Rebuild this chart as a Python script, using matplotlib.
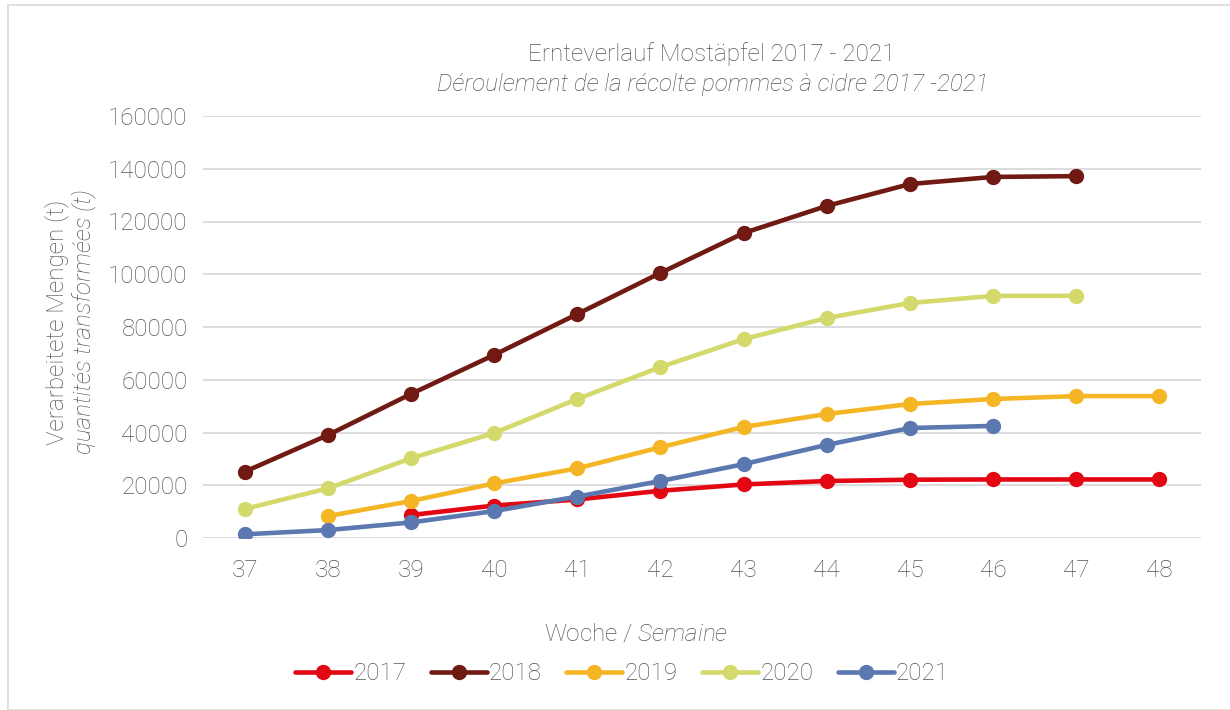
#Harvest progress of cider apples 2017-2021, cumulative tonnes per week
import matplotlib.pyplot as plt
from matplotlib.patches import Rectangle

plt.rcParams['font.family'] = 'Roboto'
plt.rcParams['font.weight'] = 'light'
plt.rcParams['mathtext.fontset'] = 'custom'
plt.rcParams['mathtext.rm'] = 'Roboto:light'
plt.rcParams['mathtext.it'] = 'Roboto:italic:light'

weeks = [37, 38, 39, 40, 41, 42, 43, 44, 45, 46, 47, 48]
years = ['2017', '2018', '2019', '2020', '2021']
colors = ['#E30613', '#701A13', '#F4B625', '#D3D96A', '#5B78B0']

#None = no value for that week
v2017 = [None, None, 8700, 12300, 14600, 17900, 20300, 21600, 22100, 22200, 22200, 22200]
v2018 = [25100, 39000, 54600, 69400, 84900, 100500, 115600, 125900, 134200, 136900, 137200, None]
v2019 = [None, 8300, 14000, 20700, 26400, 34400, 42100, 47000, 50800, 52700, 53800, 53800]
v2020 = [11000, 18800, 30200, 39800, 52700, 64800, 75400, 83400, 89100, 91800, 91800, None]
v2021 = [1400, 3000, 5900, 10200, 15700, 21600, 28000, 35300, 41700, 42500, None, None]
series = [v2017, v2018, v2019, v2020, v2021]

grey = '#555555'
fs = 17.5
fig = plt.figure(figsize=(12.3, 7.1), dpi=100)
ax = fig.add_axes([203/1230, 1 - 538/710, 998/1230, 422/710])

for name, vals, c in zip(years, series, colors):
    xs = [w for w, v in zip(weeks, vals) if v is not None]
    ys = [v for v in vals if v is not None]
    ax.plot(xs, ys, color=c, lw=3.3, marker='o', ms=10, label=name,
            solid_capstyle='round', zorder=3)

ax.set_xlim(36.5, 48.5)
ax.set_ylim(0, 160000)
ax.set_xticks(weeks)
ax.set_yticks(range(0, 160001, 20000))
ax.tick_params(colors=grey, labelsize=fs, length=0)
ax.tick_params(axis='x', pad=15)
ax.tick_params(axis='y', pad=11)
ax.grid(axis='y', color='#D9D9D9', lw=1.3)
ax.set_axisbelow(True)
for s in ax.spines.values():
    s.set_visible(False)

fig.text(712/1230, 1 - 54/710, 'Ernteverlauf Mostäpfel 2017 - 2021',
         ha='center', va='center', fontsize=fs, color=grey)
fig.text(713/1230, 1 - 84/710, 'Déroulement de la récolte pommes à cidre 2017 -2021',
         ha='center', va='center', fontsize=fs, color=grey, style='italic')
fig.text(57/1230, 1 - 322/710, 'Verarbeitete Mengen (t)', rotation=90,
         ha='center', va='center', fontsize=fs, color=grey)
fig.text(84/1230, 1 - 322/710, 'quantités transformées (t)', rotation=90,
         ha='center', va='center', fontsize=fs, color=grey, style='italic')
fig.text(636/1230, 1 - 634/710, r'Woche / $\mathit{Semaine}$',
         ha='center', va='center', fontsize=fs, color=grey)

ax.legend(loc='center', bbox_to_anchor=(622/1230, 1 - 674/710),
          bbox_transform=fig.transFigure, ncol=5, frameon=False,
          fontsize=fs, labelcolor=grey, handlelength=2.3,
          handletextpad=0.1, columnspacing=1.0)

fig.patches.append(Rectangle((8/1230, 0), 1, 1 - 5/710, transform=fig.transFigure,
                             fill=False, edgecolor='#D9D9D9', lw=1.2))

fig.savefig('out.png', dpi=100)
